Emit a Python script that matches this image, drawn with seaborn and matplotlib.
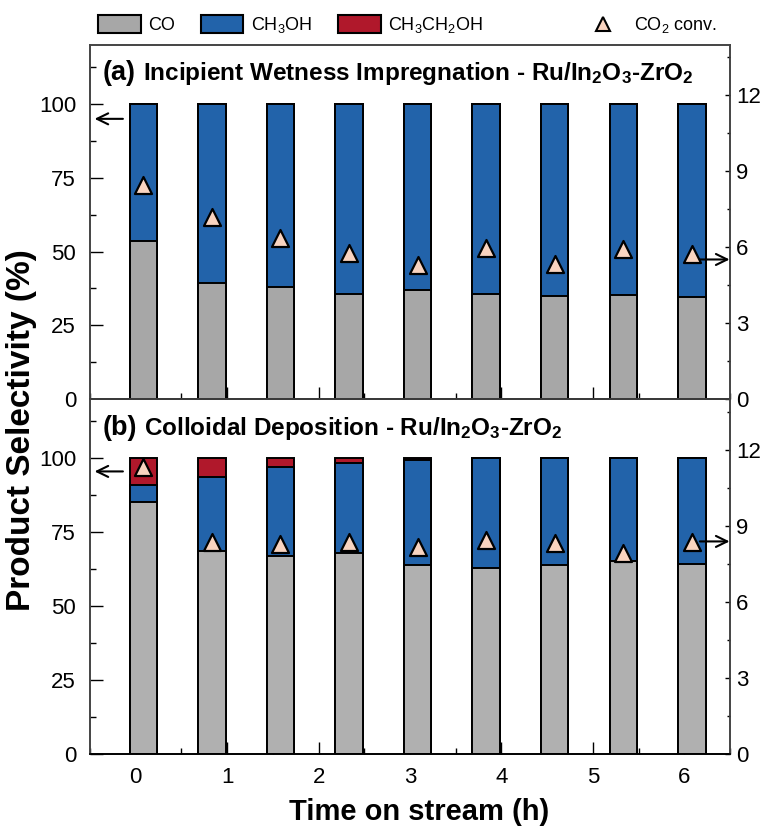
import pandas as pd
import matplotlib.pyplot as plt
import seaborn as sns
from matplotlib.patches import Patch
from matplotlib.lines import Line2D
from matplotlib.ticker import MultipleLocator

# time on stream (h) of each measurement
time_h = [0.083, 0.833, 1.583, 2.333, 3.083, 3.833, 4.583, 5.333, 6.083]

# (a) incipient wetness impregnation - selectivity (%) and CO2 conversion (%)
co_a = [53.7, 39.2, 38.1, 35.8, 37.0, 35.8, 35.0, 35.3, 34.7]
meoh_a = [46.3, 60.8, 61.9, 64.2, 63.0, 64.2, 65.0, 64.7, 65.3]
etoh_a = [0, 0, 0, 0, 0, 0, 0, 0, 0]
conv_a = [8.47, 7.18, 6.36, 5.77, 5.31, 5.99, 5.34, 5.92, 5.74]

# (b) colloidal deposition
co_b = [85.3, 68.7, 67.1, 67.9, 64.0, 62.8, 64.0, 65.2, 64.3]
meoh_b = [5.7, 24.9, 30.1, 30.6, 35.4, 37.2, 36.0, 34.8, 35.7]
etoh_b = [9.0, 6.4, 2.8, 1.5, 0.6, 0, 0, 0, 0]
conv_b = [11.34, 8.36, 8.27, 8.35, 8.19, 8.45, 8.31, 7.94, 8.35]

GRAY_A = '#a7a7a7'
GRAY_B = '#b0b0b0'
BLUE = '#2263aa'
RED = '#b0182b'
PEACH = '#f9d4c0'

sns.set_theme(style='ticks')
plt.rcParams['font.family'] = ['Liberation Sans', 'DejaVu Sans']
plt.rcParams['mathtext.default'] = 'regular'
plt.rcParams['text.color'] = 'black'
plt.rcParams['axes.labelcolor'] = 'black'
plt.rcParams['xtick.color'] = 'black'
plt.rcParams['ytick.color'] = 'black'

fig, (ax_a, ax_b) = plt.subplots(2, 1, sharex=True, figsize=(7.64, 8.27), dpi=100)
fig.subplots_adjust(left=0.1178, right=0.9555, top=0.946, bottom=0.0883, hspace=0)


def draw_panel(ax, co, meoh, etoh, conv, gray, tag, title, y_left_arrow, y_right_arrow):
    df = pd.DataFrame({'t': time_h, 'co': co, 'meoh': meoh, 'etoh': etoh})
    df['s2'] = df['co'] + df['meoh']
    df['s3'] = df['s2'] + df['etoh']
    # stacked bars drawn as overlapping cumulative bars
    for col, c in [('s3', RED), ('s2', BLUE), ('co', gray)]:
        sns.barplot(data=df, x='t', y=col, native_scale=True, width=0.4,
                    color=c, saturation=1, edgecolor='black', linewidth=1.4,
                    errorbar=None, ax=ax)
    ax.set_xlabel('')
    ax.set_ylabel('')
    ax.set_ylim(0, 120)
    ax.set_yticks([0, 25, 50, 75, 100])
    ax.yaxis.set_minor_locator(MultipleLocator(12.5))
    ax.set_axisbelow(True)
    ax.tick_params(axis='y', which='major', direction='in', length=9, width=1,
                   labelsize=16, pad=10)
    ax.tick_params(axis='y', which='minor', direction='in', length=4.5, width=1)
    ax.tick_params(axis='x', which='major', direction='in', length=9, width=1,
                   labelsize=16, pad=9.5)
    ax.tick_params(axis='x', which='minor', direction='in', length=4, width=1)

    ax2 = ax.twinx()
    sns.scatterplot(x=time_h, y=conv, marker='^', s=150, color=PEACH,
                    edgecolor='black', linewidth=1.6, zorder=4, clip_on=False,
                    legend=False, ax=ax2)
    ax2.set_ylabel('')
    ax2.set_ylim(0, 14)
    ax2.set_yticks([0, 3, 6, 9, 12])
    ax2.yaxis.set_minor_locator(MultipleLocator(1.5))
    ax2.tick_params(axis='y', which='major', direction='in', length=3.5, width=1,
                    labelsize=16, pad=4.5)
    ax2.tick_params(axis='y', which='minor', direction='in', length=2, width=1)

    for a in (ax, ax2):
        for side in ['top', 'right', 'left']:
            a.spines[side].set_color('#444444')
            a.spines[side].set_linewidth(1.2)
        a.spines['bottom'].set_color('black')
        a.spines['bottom'].set_linewidth(1.2)

    # panel title: bigger tag followed by the description
    t1 = ax.text(-0.36, 108, tag, fontsize=19.5, fontweight='bold', va='baseline')
    ax.annotate(title, xy=(1, 108), xycoords=(t1, 'data'), xytext=(5, 0),
                textcoords='offset points', fontsize=17.5, fontweight='bold',
                va='baseline', ha='left')

    arrow = dict(arrowstyle='->,head_length=0.45,head_width=0.22', lw=1.5,
                 color='black', mutation_scale=18, shrinkA=0, shrinkB=0)
    ax.annotate('', xy=(-0.45, y_left_arrow), xytext=(-0.14, y_left_arrow),
                arrowprops=arrow)
    ax2.annotate('', xy=(6.495, y_right_arrow), xytext=(6.17, y_right_arrow),
                 arrowprops=arrow, annotation_clip=False)
    return ax2


draw_panel(ax_a, co_a, meoh_a, etoh_a, conv_a, GRAY_A, '(a)',
           'Incipient Wetness Impregnation - Ru/In$_2$O$_3$-ZrO$_2$', 94.9, 5.52)
draw_panel(ax_b, co_b, meoh_b, etoh_b, conv_b, GRAY_B, '(b)',
           'Colloidal Deposition - Ru/In$_2$O$_3$-ZrO$_2$', 95.6, 8.39)

ax_b.set_xlim(-0.5, 6.5)
ax_b.set_xticks(range(7))
ax_b.xaxis.set_minor_locator(MultipleLocator(0.5))

fig.text(419 / 764, 1 - 812 / 827, 'Time on stream (h)', fontsize=21,
         fontweight='bold', ha='center', va='center')
fig.text(22 / 764, 1 - 430 / 827, 'Product Selectivity (%)', fontsize=24,
         fontweight='bold', rotation=90, ha='center', va='center')

bars = [Patch(facecolor=GRAY_A, edgecolor='black', lw=1.5, label='CO'),
        Patch(facecolor=BLUE, edgecolor='black', lw=1.5, label='CH$_3$OH'),
        Patch(facecolor=RED, edgecolor='black', lw=1.5, label='CH$_3$CH$_2$OH')]
fig.legend(handles=bars, loc='center left', bbox_to_anchor=(98 / 764, 1 - 25.3 / 827),
           ncol=3, frameon=False, fontsize=13, handlelength=2.36, handleheight=1.15,
           handletextpad=0.4, columnspacing=1.45, borderpad=0, borderaxespad=0)
tri = [Line2D([], [], marker='^', ls='none', markersize=10, mfc=PEACH, mec='black',
              mew=1.5, label='CO$_2$ conv.')]
fig.legend(handles=tri, loc='center left', bbox_to_anchor=(592 / 764, 1 - 25.3 / 827),
           frameon=False, fontsize=13, handlelength=1.2, handletextpad=1.15,
           borderpad=0, borderaxespad=0)

fig.savefig('out.png', dpi=100)
